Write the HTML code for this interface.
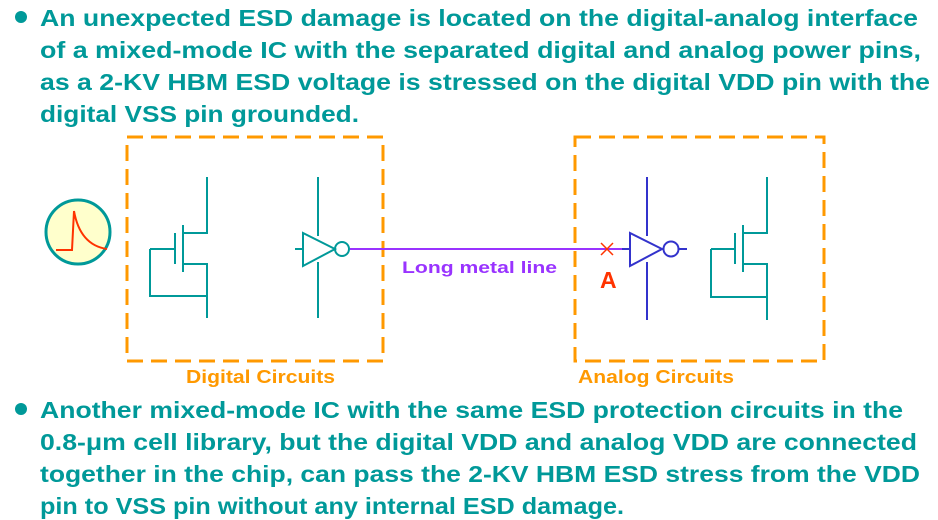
<!DOCTYPE html>
<html><head><meta charset="utf-8"><style>body{margin:0;background:#fff}svg{display:block}text{font-family:"Liberation Sans",Arial,sans-serif;font-weight:bold}</style></head><body>
<svg width="938" height="520" viewBox="0 0 938 520" xmlns="http://www.w3.org/2000/svg">
<g fill="#009999" font-size="23">
<circle cx="21" cy="17" r="6"/>
<text x="40" y="26" textLength="878" lengthAdjust="spacingAndGlyphs">An unexpected ESD damage is located on the digital-analog interface</text>
<text x="40" y="58" textLength="881" lengthAdjust="spacingAndGlyphs">of a mixed-mode IC with the separated digital and analog power pins,</text>
<text x="40" y="90" textLength="890" lengthAdjust="spacingAndGlyphs">as a 2-KV HBM ESD voltage is stressed on the digital VDD pin with the</text>
<text x="40" y="122" textLength="319" lengthAdjust="spacingAndGlyphs">digital VSS pin grounded.</text>
<circle cx="21" cy="409" r="6"/>
<text x="40" y="418" textLength="863" lengthAdjust="spacingAndGlyphs">Another mixed-mode IC with the same ESD protection circuits in the</text>
<text x="40" y="450" textLength="877" lengthAdjust="spacingAndGlyphs">0.8-μm cell library, but the digital VDD and analog VDD are connected</text>
<text x="40" y="482" textLength="880" lengthAdjust="spacingAndGlyphs">together in the chip, can pass the 2-KV HBM ESD stress from the VDD</text>
<text x="40" y="514" textLength="584" lengthAdjust="spacingAndGlyphs">pin to VSS pin without any internal ESD damage.</text>
</g>
<g fill="none" stroke="#ff9900" stroke-width="3" stroke-dasharray="16,8">
<rect x="127" y="137" width="256" height="224"/>
<rect x="575" y="137" width="249" height="224"/>
</g>
<g fill="#ff9900" font-size="18">
<text x="186" y="383" textLength="149" lengthAdjust="spacingAndGlyphs">Digital Circuits</text>
<text x="578" y="383" textLength="156" lengthAdjust="spacingAndGlyphs">Analog Circuits</text>
</g>
<circle cx="78" cy="232" r="32" fill="#ffffcc" stroke="#009999" stroke-width="3"/>
<path d="M56 250 H72 L74 211 Q80 245 107 249" fill="none" stroke="#ff3300" stroke-width="2"/>
<g fill="none" stroke="#009999" stroke-width="2">
<path d="M207 177 V233 H183 M183 225 V272 M175 233 V264 M150 249 H175 M150 249 V296 H207 M183 264 H207 V318"/>
<path d="M318 177 V236 M318 262 V318 M295 249 H303 M303 233 L303 266 L335 249 Z"/>
<circle cx="342" cy="249" r="7"/>
<path d="M767 177 V233 H743 M743 225 V272 M735 233 V264 M711 249 H735 M711 249 V297 H767 M743 264 H767 V320"/>
</g>
<path d="M350 249 H630" stroke="#9933ff" stroke-width="2"/>
<text x="402" y="273" fill="#9933ff" font-size="17" textLength="155" lengthAdjust="spacingAndGlyphs">Long metal line</text>
<g fill="none" stroke="#3333cc" stroke-width="2">
<path d="M647 177 V236 M647 262 V320 M622 249 H630 M630 233 L630 266 L662 249 Z M679 249 H687"/>
<circle cx="671" cy="249" r="7.5"/>
</g>
<path d="M601 243 L613 255 M613 243 L601 255" stroke="#ff3300" stroke-width="1.5"/>
<text x="600" y="288" fill="#ff3300" font-size="23">A</text>
</svg>
</body></html>
